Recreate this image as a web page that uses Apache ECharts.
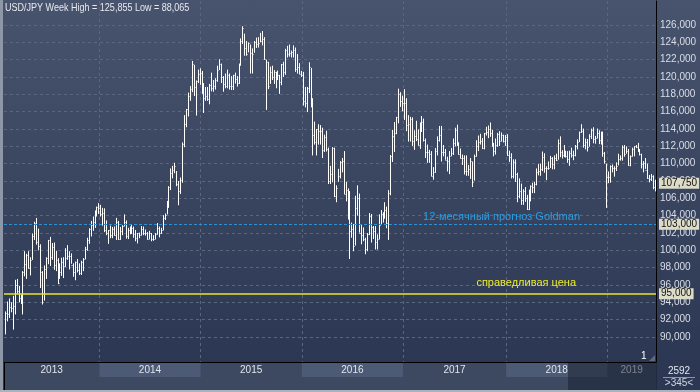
<!DOCTYPE html>
<html><head><meta charset="utf-8">
<script src="https://cdn.jsdelivr.net/npm/echarts@6.0.0/dist/echarts.min.js"></script>
<style>
html,body{margin:0;padding:0;width:700px;height:392px;overflow:hidden;}
body{background:linear-gradient(to bottom,#48546d 0px,#2c3853 362px,#2c3853 392px);}
#c{position:absolute;left:0;top:0;width:700px;height:392px;}
.bl{position:absolute;left:0;top:0;width:3px;height:392px;background:#8d97a7;}
.bb{position:absolute;left:0;top:390px;width:700px;height:2px;background:#aab2be;}
</style></head><body>
<div id="c"></div><div class="bl"></div><div class="bb"></div>
<script>
// ---- data (weekly USD/JPY bars, week starting on Sunday) ----
const firstWeek = '2013-01-27';
const lows = [
90.30,91.80,92.20,92.85,90.85,92.60,95.00,94.00,93.80,92.60,97.00,96.70,97.90,97.10,98.90,101.20,100.65,100.00,95.65,93.75,94.20,96.70,98.40,98.20,98.90,97.75,97.60,96.10,96.70,97.05,96.80,98.10,98.90,97.80,98.45,96.95,96.55,97.45,97.15,97.15,97.60,98.95,99.95,100.75,101.60,102.25,102.60,103.90,
104.20,103.90,102.85,102.10,101.75,100.75,101.40,101.40,101.70,101.20,101.20,101.20,101.75,102.75,101.35,101.30,101.85,101.90,101.45,101.05,100.80,101.40,101.70,101.75,101.70,101.25,101.25,101.05,101.10,101.25,101.80,101.50,101.90,102.30,103.50,104.15,104.90,106.95,108.30,108.90,107.40,105.20,106.50,107.80,111.90,114.20,115.45,117.25,118.25,117.80,115.55,119.30,
119.10,118.05,115.85,117.25,117.25,116.85,118.35,118.30,118.55,119.45,120.80,119.30,118.30,118.70,118.70,118.55,118.50,118.50,119.25,118.90,119.20,121.30,123.80,122.45,122.45,122.85,120.40,120.40,122.80,123.35,123.40,124.00,123.65,122.00,116.20,118.60,119.20,119.65,119.20,118.70,119.65,118.05,119.05,120.00,120.25,122.25,122.35,122.25,122.25,120.60,120.40,120.35,
120.00,116.70,116.50,115.95,118.15,116.50,110.95,112.20,110.95,112.20,112.20,110.65,111.35,111.40,107.65,107.65,107.85,106.15,105.55,107.90,108.30,109.00,106.50,105.65,103.55,99.00,101.45,99.90,100.55,104.00,102.05,100.70,101.05,99.55,99.90,101.75,100.90,101.30,100.10,100.10,101.25,102.95,103.20,103.65,102.55,101.20,106.35,110.20,111.35,113.40,114.65,116.55,116.05,
115.05,113.75,112.55,112.55,112.05,111.60,112.60,112.10,111.70,113.65,112.55,110.65,110.10,110.10,108.55,108.15,108.95,110.95,112.55,110.25,110.85,110.45,109.10,108.80,110.85,111.00,112.00,112.05,111.05,110.60,109.85,108.75,108.60,108.60,108.25,107.30,108.05,110.80,111.45,112.20,111.70,111.65,113.25,112.95,113.10,111.95,110.85,111.05,111.95,112.05,112.55,112.45,
112.05,110.90,110.20,108.30,108.30,107.90,105.55,106.00,105.25,105.25,105.60,104.65,104.65,105.65,106.60,106.60,107.50,108.65,108.60,109.15,108.95,108.10,109.30,109.50,109.35,109.35,110.30,110.45,110.75,110.60,110.75,110.70,110.10,109.75,110.70,110.40,110.85,111.65,112.50,113.55,111.85,111.65,111.40,111.95,112.85,112.35,112.30,112.90,112.25,112.20,110.80,110.00,
104.90,107.75,107.80,109.00,108.50,109.15,109.80,110.35,110.35,110.80,111.15,109.75,109.70,110.80,110.85,111.80,111.35,110.95,109.45,109.00,109.40,108.25,107.85,108.00,107.05,106.80
];
const highs = [
92.95,94.10,94.45,94.00,94.75,96.60,96.70,95.90,94.90,97.60,99.90,99.60,99.90,99.20,101.95,103.30,103.74,102.50,100.70,97.60,98.25,99.20,101.20,101.55,100.85,100.90,99.95,99.10,98.50,99.15,99.20,100.25,100.60,99.90,99.65,98.50,98.70,99.00,98.50,98.80,99.10,100.40,101.45,102.55,103.40,103.90,104.60,105.05,
105.45,105.25,104.90,104.85,103.45,102.35,102.85,102.70,102.75,103.75,103.40,102.70,102.90,104.15,103.45,102.60,102.75,103.00,102.75,102.35,102.00,102.05,102.80,102.75,102.40,102.10,102.25,102.00,101.75,102.00,103.15,102.75,102.60,104.05,104.25,105.70,107.40,109.45,109.75,110.10,109.15,108.00,108.40,112.45,115.60,116.30,118.20,118.95,121.85,121.40,119.60,120.85,
121.00,120.70,119.30,118.85,118.85,119.20,120.50,119.65,119.85,121.30,122.05,121.55,120.10,120.40,120.85,120.40,120.10,120.25,120.50,120.10,121.55,124.45,125.86,125.00,124.15,124.00,123.75,123.30,124.15,124.55,124.60,125.10,125.30,124.60,122.00,121.75,121.20,121.30,120.80,120.60,120.75,120.25,121.50,121.75,123.25,123.60,123.75,123.05,123.65,123.40,122.65,121.60,
120.70,120.60,118.85,118.85,121.70,121.05,117.55,114.85,114.00,114.55,114.45,114.15,113.35,113.80,111.85,109.75,111.90,111.85,107.50,109.40,110.30,110.65,111.45,107.90,107.15,106.85,103.20,103.05,106.30,107.50,106.55,102.95,102.65,101.45,102.00,104.30,104.20,102.80,102.80,101.85,104.15,104.65,104.40,105.55,105.05,106.95,111.00,113.90,114.80,115.40,118.65,118.25,117.85,
118.60,117.55,115.60,115.40,115.35,113.85,114.95,113.95,114.75,115.50,115.20,112.90,112.20,111.60,111.45,109.60,111.80,113.15,114.35,114.35,112.15,111.70,110.80,111.45,111.80,112.90,114.15,114.50,112.45,111.75,111.05,110.95,110.95,109.85,110.65,110.25,111.05,112.70,113.25,113.45,112.95,113.55,114.25,114.40,114.75,113.90,112.40,112.90,113.55,113.75,113.60,113.35,
113.30,113.40,111.50,111.20,110.50,110.50,108.95,108.30,107.70,107.05,107.30,106.40,107.00,107.50,107.80,107.90,109.45,109.95,110.00,111.40,111.20,109.70,110.25,110.90,110.75,110.95,111.15,112.80,113.15,111.55,112.15,111.50,111.45,111.50,111.85,111.50,112.15,112.80,113.70,114.55,114.05,112.90,112.85,113.40,114.05,114.20,113.20,114.05,113.85,113.70,113.70,111.35,
110.00,109.10,109.80,109.90,109.70,110.15,111.15,110.95,112.10,112.15,112.00,111.70,110.95,111.85,112.00,112.15,112.40,111.70,111.15,110.30,110.65,110.00,108.70,108.80,108.65,108.15
];
const closes = [
92.77,92.66,93.50,93.40,93.55,96.00,95.25,94.50,94.20,97.50,98.40,99.50,98.00,98.90,101.60,103.20,101.00,100.45,97.55,94.05,97.90,99.15,101.20,99.20,100.35,98.25,98.90,96.25,97.55,98.70,98.15,99.15,99.35,99.35,98.25,97.45,98.60,97.75,97.40,98.65,99.05,100.20,101.20,102.45,102.90,103.25,104.10,105.00,
104.85,104.15,104.30,102.30,102.05,102.30,101.80,102.50,101.80,103.30,101.35,102.25,102.85,103.30,101.60,102.40,102.15,102.60,101.85,101.45,101.95,101.75,102.45,102.00,102.05,101.35,102.05,101.30,101.35,101.85,102.60,102.00,102.35,103.75,104.10,105.10,107.35,108.95,109.25,109.75,107.60,106.90,108.15,112.30,114.60,116.25,117.75,118.60,121.45,118.80,119.50,120.40,
120.50,118.55,117.55,117.75,117.50,119.10,118.75,119.00,119.60,120.80,121.45,120.05,119.15,118.95,120.25,118.95,118.95,120.20,119.75,119.35,121.55,124.10,125.60,123.35,122.65,123.90,122.80,122.65,124.05,123.80,123.90,124.20,124.35,122.05,121.70,119.00,120.60,119.95,120.55,119.90,120.20,119.45,121.45,120.60,123.15,122.60,122.80,122.85,123.15,120.95,121.20,120.35,
120.20,117.25,117.05,118.75,121.10,116.85,113.25,112.55,114.00,113.80,113.80,111.55,113.05,111.65,108.05,108.75,111.80,106.30,107.15,108.60,110.15,110.25,106.55,106.95,104.15,102.20,102.50,100.55,104.90,106.00,102.05,101.80,101.25,100.20,101.85,103.95,102.65,102.25,101.00,101.35,102.95,104.15,103.85,104.70,103.10,106.65,110.90,113.20,113.50,115.35,118.00,117.25,116.95,
116.95,114.50,114.60,115.10,112.60,113.20,112.85,112.15,113.95,114.80,112.70,111.35,111.40,111.10,108.60,109.05,111.50,112.70,113.35,111.30,111.30,110.45,110.35,110.85,111.25,112.40,113.90,112.50,111.10,110.70,110.70,109.15,109.20,109.35,110.25,107.85,110.85,112.00,112.50,112.65,111.85,113.50,113.65,114.05,113.50,112.10,111.50,112.20,113.45,112.60,113.30,112.65,
113.05,111.05,110.80,108.60,110.15,108.75,106.30,106.90,105.75,106.80,106.00,104.75,106.25,107.40,107.35,107.65,109.05,109.15,109.40,110.80,109.45,109.55,109.55,110.65,109.95,110.65,110.45,112.35,111.40,111.05,111.25,110.90,110.50,111.20,111.05,110.95,112.05,112.55,113.70,113.75,112.20,112.55,111.90,113.20,113.85,112.85,112.95,113.55,112.70,113.40,111.25,110.25,
108.50,108.45,109.75,109.55,109.50,109.75,110.50,110.70,111.90,111.15,111.50,109.90,110.85,111.70,112.00,111.90,111.60,111.10,109.95,110.05,109.30,108.30,108.20,108.55,107.30,107.75
];
const yTicks = [90,92,94,96,98,100,102,104,106,108,110,112,114,116,118,120,122,124,126];
const yearLabels = ['2013','2014','2015','2016','2017','2018','2019'];
const goldmanLevel = 103;
const fairLevel = 95;
const goldmanText = '12-месячный прогноз Goldman';
const fairText = 'справедливая цена';
const titleText = 'USD/JPY Week High = 125,855 Low = 88,065';

// ---- derived ----
const DAY = 86400000;
const t0 = Date.parse(firstWeek + 'T00:00:00Z');
const weeks = lows.map((_, i) => new Date(t0 + i * 7 * DAY).toISOString().slice(0, 10));
const yearStarts = yearLabels.map(y => weeks.findIndex(w => w.slice(0, 4) === y)).map((v, k) => k === 0 ? 0 : v);
const yearStartSet = new Set(yearStarts.slice(1));
const bars = lows.map((l, i) => [i, l, highs[i], closes[i]]);
const lastClose = closes[closes.length - 1];
const fmt = v => Number(v).toFixed(3).replace('.', ',');

const SANS = "'Liberation Sans',Arial,sans-serif";
const gridColor = '#5a6680';
const CLEAR = 'rgba(0,0,0,0)';

const bandData = yearLabels.map((y, k) => {
  const s = yearStarts[k];
  const e = k + 1 < yearStarts.length ? yearStarts[k + 1] : weeks.length;
  return [
    { name: y, xAxis: s, yAxis: 1, itemStyle: { color: k % 2 ? '#4c5a75' : CLEAR } },
    { xAxis: e, yAxis: 2 }
  ];
});

const tag = (txt) => ({
  show: true, position: 'end', distance: 3, formatter: txt,
  backgroundColor: '#dcdcc9', color: '#111', padding: [1, 2, 0, 2],
  fontFamily: SANS, fontSize: 10
});

const chart = echarts.init(document.getElementById('c'), null, { renderer: 'canvas' });
chart.setOption({
  animation: false,
  backgroundColor: 'transparent',
  grid: [
    { left: 4, right: 44, top: 1, height: 361 },
    { left: 4, right: 44, top: 363, height: 28, show: true, backgroundColor: '#3d4961', borderWidth: 0 }
  ],
  xAxis: [
    {
      type: 'category', data: weeks, gridIndex: 0, boundaryGap: true,
      axisLine: { show: true, lineStyle: { color: '#000', width: 1 } },
      axisTick: { show: false }, axisLabel: { show: false },
      splitLine: { show: true, interval: (idx) => yearStartSet.has(idx), lineStyle: { color: gridColor, type: [3, 3], width: 1 } }
    },
    {
      type: 'value', gridIndex: 1, min: 0, max: weeks.length, show: false
    }
  ],
  yAxis: [
    {
      type: 'value', gridIndex: 0, position: 'right', min: 87.115, max: 128.769,
      axisLine: { show: true, lineStyle: { color: '#000', width: 1 } },
      axisTick: { show: false, customValues: yTicks },
      axisLabel: { customValues: yTicks, formatter: fmt, color: '#d9dee7', fontSize: 10, fontFamily: SANS, margin: 4 },
      splitLine: { show: true, lineStyle: { color: gridColor, type: [3, 3], width: 1 } }
    },
    {
      type: 'value', gridIndex: 1, position: 'right', min: 0, max: 2,
      axisLine: { show: true, lineStyle: { color: '#000', width: 1 } },
      axisTick: { show: false }, axisLabel: { show: false }, splitLine: { show: false }
    }
  ],
  series: [
    {
      type: 'custom', xAxisIndex: 0, yAxisIndex: 0, data: bars, clip: true,
      encode: { x: 0, y: [1, 2] },
      renderItem: (params, api) => {
        const i = api.value(0);
        const lo = api.coord([i, api.value(1)]);
        const hi = api.coord([i, api.value(2)]);
        const cl = api.coord([i, api.value(3)]);
        const x = Math.round(lo[0]) + 0.5;
        const cy = Math.round(cl[1]) + 0.5;
        return {
          type: 'group',
          children: [
            { type: 'line', shape: { x1: x, y1: lo[1], x2: x, y2: hi[1] }, style: { stroke: '#ffffff', lineWidth: 1 } },
            { type: 'line', shape: { x1: x, y1: cy, x2: x + 1, y2: cy }, style: { stroke: '#ffffff', lineWidth: 1 } }
          ]
        };
      },
      markLine: {
        silent: true, symbol: ['none', 'none'], animation: false,
        data: [
          { yAxis: goldmanLevel, lineStyle: { color: '#2a93d8', type: [3, 2], width: 1 }, label: tag(fmt(goldmanLevel)) },
          { yAxis: goldmanLevel, lineStyle: { color: CLEAR, width: 1 },
            label: { show: true, position: 'insideEndTop', distance: 2, formatter: goldmanText, color: '#2b9de2', fontSize: 11, fontFamily: SANS, padding: [0, 74, 0, 0] } },
          { yAxis: fairLevel, lineStyle: { color: '#e6e62c', type: 'solid', width: 1.5 }, label: tag(fmt(fairLevel)) },
          { yAxis: fairLevel, lineStyle: { color: CLEAR, width: 1 },
            label: { show: true, position: 'insideEndTop', distance: 5, formatter: fairText, color: '#ecec30', fontSize: 11, fontFamily: SANS, padding: [0, 75, 0, 0] } },
          { yAxis: lastClose, lineStyle: { color: CLEAR, width: 1 }, label: tag(fmt(lastClose)) }
        ]
      }
    },
    {
      type: 'line', xAxisIndex: 1, yAxisIndex: 1, data: [[0, 0]], showSymbol: false, silent: true,
      lineStyle: { opacity: 0 },
      markArea: {
        silent: true,
        label: { show: true, position: 'inside', color: '#e1e6ee', fontSize: 10, fontFamily: SANS },
        data: bandData
      }
    }
  ],
  graphic: [
    { type: 'text', z: 100, x: 5, y: 2, scaleX: 0.82, style: { text: titleText, fill: '#e6eaf1', fontSize: 11, fontFamily: SANS } },
    { type: 'rect', z: 100, shape: { x: 568, y: 363, width: 89, height: 28 }, style: { fill: 'rgba(22,29,46,0.5)' } },
    { type: 'text', z: 100, x: 641, y: 351, style: { text: '1', fill: '#ffffff', fontSize: 10, fontFamily: SANS } },
    { type: 'polygon', z: 100, shape: { points: [[649, 361], [655, 355], [655, 361]] }, style: { fill: '#5e6880' } },
    { type: 'text', z: 100, x: 679, y: 371, style: { text: '2592', fill: '#e3e7ee', fontSize: 10, fontFamily: SANS, align: 'center', verticalAlign: 'middle' } },
    { type: 'rect', z: 100, shape: { x: 663, y: 377, width: 32, height: 1 }, style: { fill: '#8c96a8' } },
    { type: 'text', z: 100, x: 679, y: 383, style: { text: '>345<', fill: '#d0d6e0', fontSize: 10, fontFamily: SANS, align: 'center', verticalAlign: 'middle' } }
  ]
});
</script>
</body></html>
